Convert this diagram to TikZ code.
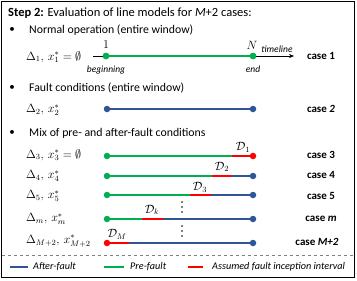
\documentclass[tikz,border=0pt]{standalone}
\usepackage{fontspec}
\setmainfont{Carlito}
\usetikzlibrary{arrows.meta}
\definecolor{gcol}{RGB}{0,176,80}
\definecolor{bcol}{RGB}{47,85,151}
\definecolor{rcol}{RGB}{255,0,0}
\begin{document}
\begin{tikzpicture}[x=1pt,y=-1pt,
  seg/.style={line width=2.2pt},
  gseg/.style={seg,draw=gcol},
  bseg/.style={seg,draw=bcol},
  rseg/.style={seg,draw=rcol},
  gdot/.style={circle,fill=gcol,inner sep=0pt,minimum size=6.5pt},
  bdot/.style={circle,fill=bcol,inner sep=0pt,minimum size=6.5pt},
  rdot/.style={circle,fill=rcol,inner sep=0pt,minimum size=6.5pt},
  vdot/.style={circle,fill=black,inner sep=0pt,minimum size=1.9pt},
  txt/.style={font=\fontsize{11.8}{14}\selectfont,inner sep=0pt},
  ttl/.style={font=\fontsize{12.5}{15}\selectfont,inner sep=0pt},
  lbl/.style={font=\fontsize{12}{14}\selectfont,inner sep=0pt,anchor=west},
  dlbl/.style={font=\fontsize{11.5}{13}\selectfont,inner sep=0pt},
  casel/.style={font=\fontsize{11}{13}\selectfont\bfseries,inner sep=0pt},
  leg/.style={font=\fontsize{10.2}{12}\selectfont\itshape,inner sep=0pt,anchor=west},
  small/.style={font=\fontsize{9.5}{11}\selectfont\itshape,inner sep=0pt},
  bul/.style={font=\fontsize{11}{13}\selectfont,inner sep=0pt}]
\useasboundingbox (0,0) rectangle (357,281);
\draw[line width=0.9pt] (1.5,1.5) rectangle (354.5,277.5);
\draw[gray,dashed,line width=0.4pt] (1.5,255) -- (354.5,255);
% title
\node[ttl,anchor=west] (title) at (8,13) {\textbf{Step 2:} Evaluation of line models for \textit{M}+2 cases:};
% bullets
\node[bul] (b1) at (12,30) {•};
\node[txt,anchor=west] (t1) at (29,30) {Normal operation (entire window)};
\node[bul] (b2) at (12,88) {•};
\node[txt,anchor=west] (t2) at (29,88) {Fault conditions (entire window)};
\node[bul] (b3) at (12,133) {•};
\node[txt,anchor=west] (t3) at (29,133) {Mix of pre- and after-fault conditions};
% case 1
\coordinate (tl0) at (93,56);
\node[gdot] (s1) at (106,56) {};
\node[gdot] (e1) at (253,56) {};
\coordinate (tl1) at (294,56);
\draw[line width=0.7pt] (tl0) -- (s1);
\draw[gseg] (s1) -- (e1);
\draw[line width=0.7pt,-{Stealth[length=5pt,width=4pt]}] (e1) -- (tl1);
\node[gdot] at (s1) {};
\node[gdot] at (e1) {};
\node[dlbl] (one) at (106,45) {$1$};
\node[dlbl] (nn) at (252,45) {$N$};
\node[small] (timel) at (277,49) {timeline};
\node[small] (beg) at (106,70) {beginning};
\node[small] (endl) at (253,69) {end};
\node[lbl] (l1) at (26,57) {$\Delta_1,\, x_1^*=\emptyset$};
\node[casel] (c1) at (321,56) {case 1};
% case 2
\coordinate (s2) at (107,109);
\coordinate (e2) at (253,109);
\draw[bseg] (s2) -- (e2);
\node[bdot] at (s2) {};
\node[bdot] at (e2) {};
\node[lbl] (l2) at (26,110) {$\Delta_2,\, x_2^*$};
\node[casel] (c2) at (321,109) {case \textit{2}};
% case 3
\coordinate (s3) at (107,156);
\coordinate (a3) at (232,156);
\coordinate (e3) at (253,156);
\draw[gseg] (s3) -- (a3);
\draw[rseg] (a3) -- (e3);
\node[gdot] at (s3) {};
\node[rdot] at (e3) {};
\node[dlbl] (d1) at (243,147) {$\mathcal{D}_1$};
\node[lbl] (l3) at (26,155) {$\Delta_3,\, x_3^*=\emptyset$};
\node[casel] (c3) at (321,155) {case 3};
% case 4
\coordinate (s4) at (107,176);
\coordinate (a4) at (212,176);
\coordinate (b4) at (232,176);
\coordinate (e4) at (253,176);
\draw[gseg] (s4) -- (a4);
\draw[rseg] (a4) -- (b4);
\draw[bseg] (b4) -- (e4);
\node[gdot] at (s4) {};
\node[bdot] at (e4) {};
\node[dlbl] (d2) at (222,167) {$\mathcal{D}_2$};
\node[lbl] (l4) at (26,176) {$\Delta_4,\, x_4^*$};
\node[casel] (c4) at (321,175) {case 4};
% case 5
\coordinate (s5) at (107,195);
\coordinate (a5) at (190,195);
\coordinate (b5) at (211,195);
\coordinate (e5) at (253,195);
\draw[gseg] (s5) -- (a5);
\draw[rseg] (a5) -- (b5);
\draw[bseg] (b5) -- (e5);
\node[gdot] at (s5) {};
\node[bdot] at (e5) {};
\node[dlbl] (d3) at (200,187) {$\mathcal{D}_3$};
\node[lbl] (l5) at (26,196) {$\Delta_5,\, x_5^*$};
\node[casel] (c5) at (321,196) {case 5};
% vertical dots
\foreach \yy in {202,207,212,226,231,236} {\node[vdot] at (182,\yy) {};}
% case m
\coordinate (sm) at (107,219);
\coordinate (am) at (142,219);
\coordinate (bm) at (163,219);
\coordinate (em) at (253,219);
\draw[gseg] (sm) -- (am);
\draw[rseg] (am) -- (bm);
\draw[bseg] (bm) -- (em);
\node[gdot] at (sm) {};
\node[bdot] at (em) {};
\node[dlbl] (dk) at (152,210) {$\mathcal{D}_k$};
\node[lbl] (lm) at (26,219) {$\Delta_m,\, x_m^*$};
\node[casel] (cm) at (321,219) {case \textit{m}};
% case M+2
\coordinate (sM) at (107,243);
\coordinate (aM) at (129,243);
\coordinate (eM) at (253,243);
\draw[rseg] (sM) -- (aM);
\draw[bseg] (aM) -- (eM);
\node[rdot] at (sM) {};
\node[bdot] at (eM) {};
\node[dlbl] (dM) at (117,234) {$\mathcal{D}_M$};
\node[lbl] (lM) at (26,241) {$\Delta_{M+2},\, x_{M+2}^*$};
\node[casel] (cM) at (317,242) {case \textit{M+2}};
% legend
\coordinate (lb0) at (10,267);
\coordinate (lb1) at (28,267);
\draw[bseg] (lb0) -- (lb1);
\node[leg] (lgb) at (33,267) {After-fault};
\coordinate (lg0) at (104,267);
\coordinate (lg1) at (124,267);
\draw[gseg] (lg0) -- (lg1);
\node[leg] (lgg) at (130,267) {Pre-fault};
\coordinate (lr0) at (188,267);
\coordinate (lr1) at (203,267);
\draw[rseg] (lr0) -- (lr1);
\node[leg] (lgr) at (212,267) {Assumed fault inception interval};
\end{tikzpicture}
\end{document}
